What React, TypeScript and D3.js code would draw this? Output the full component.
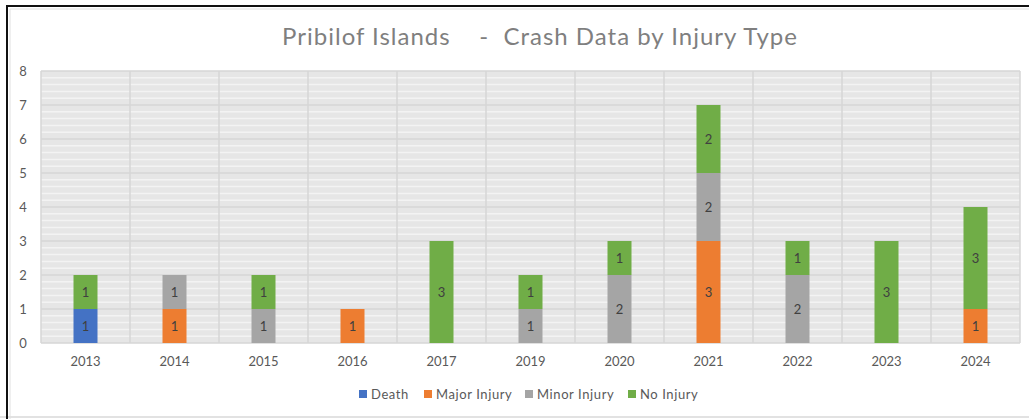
import { useRef, useEffect } from 'react';
import * as d3 from 'd3';

const years = ['2013', '2014', '2015', '2016', '2017', '2019', '2020', '2021', '2022', '2023', '2024'];
const seriesNames = ['Death', 'Major Injury', 'Minor Injury', 'No Injury'];
const death = [1, 0, 0, 0, 0, 0, 0, 0, 0, 0, 0];
const majorInjury = [0, 1, 0, 1, 0, 0, 0, 3, 0, 0, 1];
const minorInjury = [0, 1, 1, 0, 0, 1, 2, 2, 2, 0, 0];
const noInjury = [1, 0, 1, 0, 3, 1, 1, 2, 1, 3, 3];
const colors = ['#4472C4', '#ED7D31', '#A5A5A5', '#70AD47'];
const yTicks = [0, 1, 2, 3, 4, 5, 6, 7, 8];

const W = 1029;
const H = 419;

const App = () => {
  const ref = useRef<SVGSVGElement>(null);

  useEffect(() => {
    const svg = d3.select(ref.current);
    svg.selectAll('*').remove();
    const font = 'Lato, "Open Sans", sans-serif';

    const rows = years.map((y, i) => ({
      year: y,
      'Death': death[i],
      'Major Injury': majorInjury[i],
      'Minor Injury': minorInjury[i],
      'No Injury': noInjury[i],
    }));

    const left = 41, right = 1020, top = 71, bottom = 343;
    const x = d3.scaleBand().domain(years).range([left, right]);
    const y = d3.scaleLinear().domain([0, 8]).range([bottom, top]);

    // frame
    svg.append('rect').attr('width', W).attr('height', H).attr('fill', '#fff');
    svg.append('line').attr('x1', 0).attr('x2', W).attr('y1', 417).attr('y2', 417)
      .attr('stroke', '#d9d9d9').attr('stroke-width', 1.5);
    svg.append('line').attr('x1', 6).attr('x2', W).attr('y1', 6).attr('y2', 6)
      .attr('stroke', '#111').attr('stroke-width', 2);
    svg.append('line').attr('x1', 7).attr('x2', 7).attr('y1', 5).attr('y2', H)
      .attr('stroke', '#111').attr('stroke-width', 2);
    svg.append('line').attr('x1', 10).attr('x2', W).attr('y1', 9).attr('y2', 9)
      .attr('stroke', '#e0e0e0').attr('stroke-width', 1);
    svg.append('line').attr('x1', 10).attr('x2', 10).attr('y1', 9).attr('y2', H)
      .attr('stroke', '#e0e0e0').attr('stroke-width', 1);

    // title
    svg.append('text')
      .attr('x', 540).attr('y', 45)
      .attr('text-anchor', 'middle')
      .attr('font-family', font).attr('font-size', 24)
      .attr('letter-spacing', 1)
      .attr('fill', '#7f7f7f')
      .attr('xml:space', 'preserve')
      .style('white-space', 'pre')
      .text('Pribilof Islands    -  Crash Data by Injury Type');

    // plot background
    svg.append('rect')
      .attr('x', left).attr('y', top)
      .attr('width', right - left).attr('height', bottom - top)
      .attr('fill', '#e6e6e6');

    const minor = d3.range(0, 8, 0.2).filter(v => Math.abs(v - Math.round(v)) > 0.01);
    svg.append('g').selectAll('line').data(minor).enter().append('line')
      .attr('x1', left).attr('x2', right)
      .attr('y1', d => y(d)).attr('y2', d => y(d))
      .attr('stroke', '#f3f3f3').attr('stroke-width', 1.5);

    svg.append('g').selectAll('line').data(yTicks).enter().append('line')
      .attr('x1', left).attr('x2', right)
      .attr('y1', d => y(d)).attr('y2', d => y(d))
      .attr('stroke', '#d6d6d6').attr('stroke-width', 1.5);

    const bounds = years.map(yr => x(yr) as number).concat([right]);
    svg.append('g').selectAll('line').data(bounds).enter().append('line')
      .attr('x1', d => d).attr('x2', d => d)
      .attr('y1', top).attr('y2', bottom)
      .attr('stroke', '#d6d6d6').attr('stroke-width', 1.5);

    // y axis labels
    svg.append('g').selectAll('text').data(yTicks).enter().append('text')
      .attr('x', 23).attr('y', d => y(d)).attr('dy', '0.35em')
      .attr('text-anchor', 'middle')
      .attr('font-family', font).attr('font-size', 13)
      .attr('fill', '#595959')
      .text(d => d);

    // x axis labels
    svg.append('g').selectAll('text').data(years).enter().append('text')
      .attr('x', d => (x(d) as number) + x.bandwidth() / 2).attr('y', 366)
      .attr('text-anchor', 'middle')
      .attr('font-family', font).attr('font-size', 13)
      .attr('fill', '#595959')
      .text(d => d);

    // stacked bars
    const stack = d3.stack<any>().keys(seriesNames)(rows);
    const bw = 24;
    stack.forEach((layer, si) => {
      const g = svg.append('g');
      const segs = layer.map((d, i) => ({ y0: d[0], y1: d[1], year: years[i] }))
        .filter(d => d.y1 - d.y0 > 0);
      g.selectAll('rect').data(segs).enter().append('rect')
        .attr('x', d => (x(d.year) as number) + x.bandwidth() / 2 - bw / 2)
        .attr('width', bw)
        .attr('y', d => y(d.y1))
        .attr('height', d => y(d.y0) - y(d.y1))
        .attr('fill', colors[si]);
      g.selectAll('text').data(segs).enter().append('text')
        .attr('x', d => (x(d.year) as number) + x.bandwidth() / 2)
        .attr('y', d => (y(d.y0) + y(d.y1)) / 2).attr('dy', '0.35em')
        .attr('text-anchor', 'middle')
        .attr('font-family', font).attr('font-size', 13)
        .attr('fill', '#404040')
        .text(d => d.y1 - d.y0);
    });

    // legend
    const legendX = [359, 424, 525, 628];
    const lg = svg.append('g').selectAll('g').data(seriesNames).enter().append('g')
      .attr('transform', (d, i) => `translate(${legendX[i]}, 394)`);
    lg.append('rect').attr('x', 0).attr('y', -4).attr('width', 8).attr('height', 8)
      .attr('fill', (d, i) => colors[i]);
    lg.append('text').attr('x', 12).attr('y', 0).attr('dy', '0.35em')
      .attr('font-family', font).attr('font-size', 13)
      .attr('letter-spacing', 0.6)
      .attr('fill', '#595959')
      .text(d => d);
  }, []);

  return (
    <svg ref={ref} width={W} height={H} style={{ position: 'absolute', left: 0, top: 0 }}></svg>
  );
};

export default App;
